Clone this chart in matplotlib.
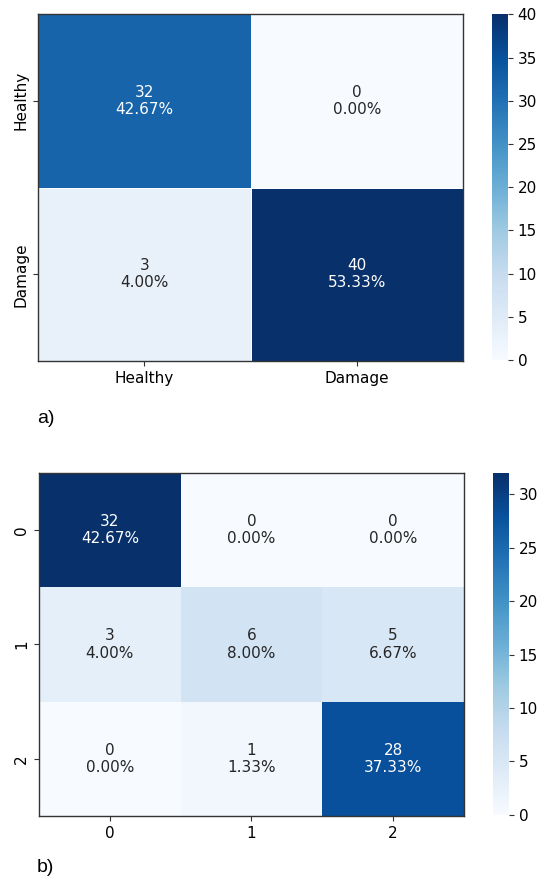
import numpy as np
import matplotlib
matplotlib.use("Agg")
import matplotlib.pyplot as plt
import seaborn as sns

# confusion matrices
labels_a = ["Healthy", "Damage"]
counts_a = [[32, 0],
            [3, 40]]
labels_b = ["0", "1", "2"]
counts_b = [[32, 0, 0],
            [3, 6, 5],
            [0, 1, 28]]


def annot_text(counts):
    c = np.array(counts)
    pct = c / c.sum() * 100
    return np.array([[f"{v}\n{p:.2f}%" for v, p in zip(rc, rp)]
                     for rc, rp in zip(c, pct)])


fig = plt.figure(figsize=(5.4, 8.82), dpi=100)

ax1 = fig.add_axes([0.0704, 0.5907, 0.787, 0.3934])
cax1 = fig.add_axes([0.911, 0.5918, 0.0296, 0.392])
ax2 = fig.add_axes([0.0722, 0.0748, 0.787, 0.389])
cax2 = fig.add_axes([0.913, 0.076, 0.0296, 0.388])

sns.heatmap(np.array(counts_a), annot=annot_text(counts_a), fmt="", cmap="Blues",
            ax=ax1, cbar_ax=cax1, xticklabels=labels_a, yticklabels=labels_a,
            linewidths=0.5, linecolor="white", annot_kws={"fontsize": 11})
sns.heatmap(np.array(counts_b), annot=annot_text(counts_b), fmt="", cmap="Blues",
            ax=ax2, cbar_ax=cax2, xticklabels=labels_b, yticklabels=labels_b,
            annot_kws={"fontsize": 11})

for ax in (ax1, ax2):
    for s in ax.spines.values():
        s.set_visible(True)
        s.set_color("#333333")
        s.set_linewidth(1.0)
    ax.tick_params(axis="both", length=3.5, labelsize=11, color="#333333")
    ax.tick_params(axis="y", rotation=90)
    for t in ax.get_yticklabels():
        t.set_va("center")

cax1.set_yticks(range(0, 41, 5))
for cax in (cax1, cax2):
    cax.tick_params(labelsize=11, length=3.5, color="#333333")
    cax.spines["outline"].set_visible(False) if "outline" in cax.spines else None
    for s in cax.spines.values():
        s.set_visible(False)

fig.text(0.0685, 0.52, "a)", fontsize=14, family="Liberation Sans", va="baseline")
fig.text(0.0685, 0.0113, "b)", fontsize=14, family="Liberation Sans", va="baseline")

fig.savefig("out.png", dpi=100)
